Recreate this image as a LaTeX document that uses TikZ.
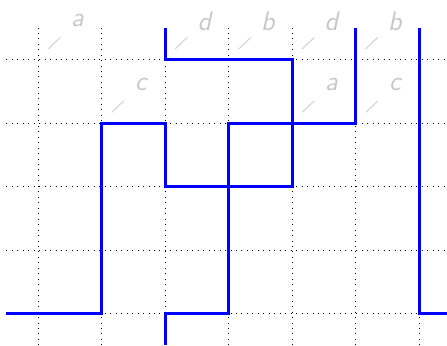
\documentclass[tikz,border=0pt]{standalone}
\begin{document}
\begin{tikzpicture}[x=1cm,y=1cm,
  strand/.style={blue,line width=1.4pt},
  gridline/.style={dotted,black,line width=0.45pt},
  pinline/.style={black!20,line width=0.4pt},
  lab/.style={black!22,font=\large\sffamily\itshape,inner sep=0pt}]
\useasboundingbox (0.4,-0.5) rectangle (7.44,4.94);
\draw[gridline] (0.5,-0.5) grid (7.5,4.5);
% labels with pins
\foreach \nm/\px/\py/\t in {la/1/4/a, lc/2/3/c, ld/3/4/d, lb/4/4/b, ld2/5/4/d, lb2/6/4/b, la2/5/3/a, lc2/6/3/c}{
  \coordinate (\nm-s) at (\px+0.16,\py+0.17);
  \coordinate (\nm-e) at (\px+0.35,\py+0.35);
  \node[lab] (\nm) at (\px+0.62,\py+0.61) {\t};
  \draw[pinline] (\nm-s) -- (\nm-e);
}
% strands
\draw[strand] (0.5,0) -- (2,0) -- (2,3) -- (3,3) -- (3,2) -- (5,2) -- (5,4) -- (3,4) -- (3,4.5);
\draw[strand] (3,-0.5) -- (3,0) -- (4,0) -- (4,3) -- (6,3) -- (6,4.5);
\draw[strand] (7,4.5) -- (7,0) -- (7.5,0);
\end{tikzpicture}
\end{document}
